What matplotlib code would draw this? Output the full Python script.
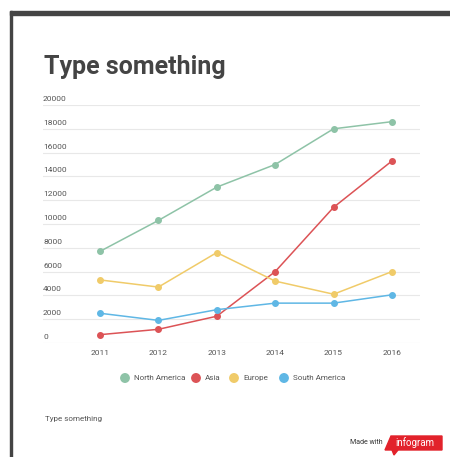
import matplotlib.pyplot as plt
from matplotlib.patches import Rectangle, Polygon

years = [2011, 2012, 2013, 2014, 2015, 2016]
series_names = ["North America", "Asia", "Europe", "South America"]
north_america = [7700, 10300, 13100, 15000, 18000, 18600]
asia = [700, 1150, 2250, 6000, 11400, 15300]
europe = [5300, 4700, 7600, 5200, 4100, 6000]
south_america = [2500, 1900, 2800, 3350, 3350, 4050]
y_ticks = [0, 2000, 4000, 6000, 8000, 10000, 12000, 14000, 16000, 18000, 20000]
colors = ["#8ec3a7", "#dc5356", "#f0cb69", "#5fb7e5"]

plt.rcParams['font.family'] = ['Roboto', 'DejaVu Sans']

W, H = 450, 457
fig = plt.figure(figsize=(W / 100, H / 100), dpi=100)

def fx(px):
    return px / W

def fy(py):
    return 1 - py / H

# frame bars
fig.patches.append(Rectangle((fx(10), fy(15)), 1 - fx(10), 4 / H, transform=fig.transFigure,
                             color="#444444", zorder=0))
fig.patches.append(Rectangle((fx(10), 0), 2 / W, fy(11), transform=fig.transFigure,
                             color="#444444", zorder=0))

fig.text(fx(44), fy(67), "Type something", fontsize=18, fontweight="bold",
         color="#444444", va="center", ha="left")

ax = fig.add_axes([fx(43), fy(343), fx(420) - fx(43), (343 - 105) / H])
ax.set_xlim(2010.024, 2016.48)
ax.set_ylim(0, 20000)
for s in ax.spines.values():
    s.set_visible(False)
ax.set_xticks([])
ax.set_yticks([])

for v in y_ticks:
    ax.axhline(v, color="#e8e8e8" if v else "#dddddd", lw=0.8, zorder=0)
    ax.text(0, v + 250, str(v), transform=ax.get_yaxis_transform(), fontsize=6,
            color="#555555", ha="left", va="bottom")

for y in years:
    ax.text(y, -600, str(y), fontsize=6, color="#555555", ha="center", va="top")

data = [north_america, asia, europe, south_america]
for vals, c in zip(data, colors):
    ax.plot(years, vals, color=c, lw=1.1, marker="o", ms=4, zorder=3, clip_on=False)

# legend
legend_x = [125, 196, 234, 284]
for name, c, lx in zip(series_names, colors, legend_x):
    fig.patches.append(plt.Circle((fx(lx), fy(378)), 4.2 / W, transform=fig.transFigure,
                                  color=c))
    fig.text(fx(lx + 9), fy(378), name, fontsize=5.8, color="#555555", va="center", ha="left")

fig.text(fx(45), fy(419), "Type something", fontsize=5.8, color="#555555", va="center", ha="left")

# made with infogram badge
fig.text(fx(350), fy(443), "Made with", fontsize=5, color="#333333", va="center", ha="left")
badge = Polygon([(fx(385), fy(450)), (fx(391), fy(436)), (fx(442), fy(436)), (fx(442), fy(450))],
                closed=True, transform=fig.transFigure, color="#e2222b")
fig.patches.append(badge)
tail = Polygon([(fx(392), fy(450)), (fx(398), fy(450)), (fx(394), fy(455))],
               closed=True, transform=fig.transFigure, color="#e2222b")
fig.patches.append(tail)
fig.text(fx(415), fy(442.5), "infogram", fontsize=7, color="white", va="center", ha="center")

fig.savefig("out.png", dpi=100)
